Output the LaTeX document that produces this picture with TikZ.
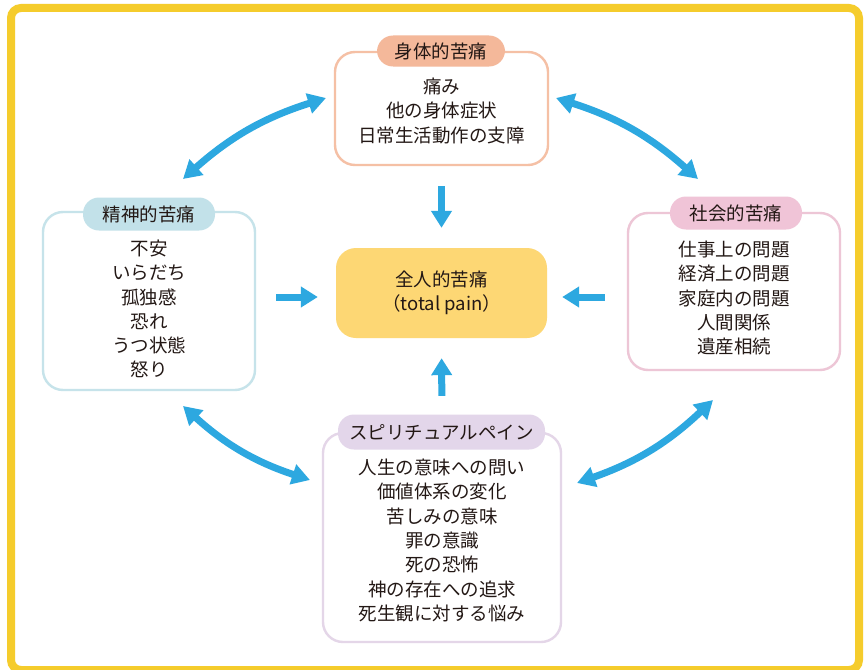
\documentclass[tikz,border=0pt]{standalone}
\usepackage{fontspec}
\setmainfont{Noto Sans CJK JP}
\usetikzlibrary{arrows.meta,calc}
\definecolor{frameY}{HTML}{F5CC2C}
\definecolor{arrowB}{HTML}{2DA8E0}
\definecolor{coreF}{HTML}{FDD774}
\definecolor{physB}{HTML}{F5C0A5}
\definecolor{physP}{HTML}{F4B89A}
\definecolor{mentB}{HTML}{C6E3EA}
\definecolor{mentP}{HTML}{C2E1E9}
\definecolor{socB}{HTML}{EDC6D6}
\definecolor{socP}{HTML}{F0C4D7}
\definecolor{spiB}{HTML}{E4D6E8}
\definecolor{spiP}{HTML}{E3D6EA}
\definecolor{txt}{HTML}{231815}
\begin{document}
\begin{tikzpicture}[x=1pt,y=-1pt,
  box/.style={draw, line width=2.4pt, rounded corners=20pt, fill=white, inner sep=0pt},
  pill/.style={rounded corners=16pt, inner sep=0pt, text=txt, font=\fontsize{18.5}{20}\selectfont},
  list/.style={align=center, inner sep=0pt, text=txt, font=\fontsize{18.5}{24.3}\selectfont},
  bigarrow/.style={draw=arrowB, line width=7pt, -{Triangle[width=20pt,length=17pt]}},
  dblarrow/.style={draw=arrowB, line width=7pt, {Triangle[width=20pt,length=18pt]}-{Triangle[width=20pt,length=18pt]}},
]
\useasboundingbox (0,0) rectangle (864,669);
\fill[white] (0,0) rectangle (864,669);
\draw[frameY, line width=8pt, rounded corners=10pt] (11,8) rectangle (859,670);

% physical
\node[box, draw=physB, minimum width=213pt, minimum height=113pt] (phys) at (441.5,108.5) {};
\node[pill, fill=physP, minimum width=128pt, minimum height=31pt] (physL) at (441,51) {身体的苦痛};
\node[list] (physT) at (441.5,111) {痛み\\他の身体症状\\日常生活動作の支障};

% mental
\node[box, draw=mentB, minimum width=212pt, minimum height=178pt] (ment) at (149,301) {};
\node[pill, fill=mentP, minimum width=132pt, minimum height=33pt] (mentL) at (149,214) {精神的苦痛};
\node[list] (mentT) at (149,309) {不安\\いらだち\\孤独感\\恐れ\\うつ状態\\怒り};

% social
\node[box, draw=socB, minimum width=212pt, minimum height=157pt] (soc) at (734,291.5) {};
\node[pill, fill=socP, minimum width=132pt, minimum height=33pt] (socL) at (736,213) {社会的苦痛};
\node[list] (socT) at (734,298) {仕事上の問題\\経済上の問題\\家庭内の問題\\人間関係\\遺産相続};

% spiritual
\node[box, draw=spiB, minimum width=238pt, minimum height=209pt] (spi) at (442,537.5) {};
\node[pill, fill=spiP, minimum width=207pt, minimum height=35pt] (spiL) at (441.5,432) {スピリチュアルペイン};
\node[list] (spiT) at (442,540.5) {人生の意味への問い\\価値体系の変化\\苦しみの意味\\罪の意識\\死の恐怖\\神の存在への追求\\死生観に対する悩み};

% core
\node[fill=coreF, rounded corners=20pt, minimum width=211pt, minimum height=90pt, align=center, text=txt, font=\fontsize{18.5}{23.5}\selectfont] (core) at (441.5,293) {全人的苦痛\\（total pain）};

% straight arrows
\draw[bigarrow, shorten <=20pt, shorten >=20pt] (phys.south) -- (core.north);
\draw[bigarrow, shorten <=36pt, shorten >=20pt] (spi.north) -- (core.south);
\draw[bigarrow, shorten <=20pt, shorten >=18pt] ($(ment.east |- core.west)+(0,4)$) -- ($(core.west)+(0,4)$);
\draw[bigarrow, shorten <=22pt, shorten >=15pt] ($(soc.west |- core.east)+(0,4)$) -- ($(core.east)+(0,4)$);

% curved double arrows
\coordinate (c1a) at (183,179); \coordinate (c1b) at (326,98);
\coordinate (c2a) at (556,98);  \coordinate (c2b) at (698,179);
\coordinate (c3a) at (183,406); \coordinate (c3b) at (310,480);
\coordinate (c4a) at (713,400); \coordinate (c4b) at (577,483);
\draw[dblarrow] (c1a) to[bend left=12] (c1b);
\draw[dblarrow] (c2a) to[bend left=12] (c2b);
\draw[dblarrow] (c3a) to[bend right=12] (c3b);
\draw[dblarrow] (c4a) to[bend left=12] (c4b);
\end{tikzpicture}
\end{document}
